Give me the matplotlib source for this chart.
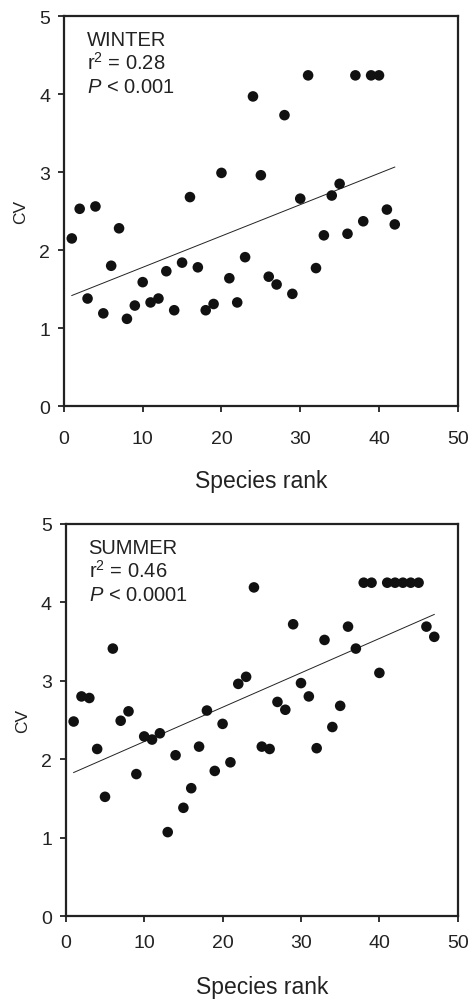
import matplotlib
matplotlib.use('Agg')
import matplotlib.pyplot as plt
import numpy as np

plt.rcParams['font.family'] = ['Liberation Sans', 'DejaVu Sans']
plt.rcParams['mathtext.fontset'] = 'custom'
plt.rcParams['mathtext.rm'] = 'Liberation Sans'
plt.rcParams['mathtext.it'] = 'Liberation Sans:italic'

# winter: species rank vs CV
winter_rank = np.arange(1, 43)
winter_cv = [2.15, 2.53, 1.38, 2.56, 1.19, 1.80, 2.28, 1.12, 1.29, 1.59,
             1.33, 1.38, 1.73, 1.23, 1.84, 2.68, 1.78, 1.23, 1.31, 2.99,
             1.64, 1.33, 1.91, 3.97, 2.96, 1.66, 1.56, 3.73, 1.44, 2.66,
             4.24, 1.77, 2.19, 2.70, 2.85, 2.21, 4.24, 2.37, 4.24, 4.24,
             2.52, 2.33]
winter_text = ['WINTER', r'r$^{\mathregular{2}}$ = 0.28', r'$\mathit{P}$ < 0.001']

# summer
summer_rank = np.arange(1, 48)
summer_cv = [2.48, 2.80, 2.78, 2.13, 1.52, 3.41, 2.49, 2.61, 1.81, 2.29,
             2.25, 2.33, 1.07, 2.05, 1.38, 1.63, 2.16, 2.62, 1.85, 2.45,
             1.96, 2.96, 3.05, 4.19, 2.16, 2.13, 2.73, 2.63, 3.72, 2.97,
             2.80, 2.14, 3.52, 2.41, 2.68, 3.69, 3.41, 4.25, 4.25, 3.10,
             4.25, 4.25, 4.25, 4.25, 4.25, 3.69, 3.56]
summer_text = ['SUMMER', r'r$^{\mathregular{2}}$ = 0.46', r'$\mathit{P}$ < 0.0001']

x_ticks = [0, 10, 20, 30, 40, 50]
y_ticks = [0, 1, 2, 3, 4, 5]


def draw_panel(ax, rank, cv, lines, xpad, labelpad):
    ax.scatter(rank, cv, s=58, color='#111111', edgecolors='none', zorder=3)

    # least squares fit over the plotted ranks
    slope, intercept = np.polyfit(rank, cv, 1)
    xs = np.array([rank[0], rank[-1]])
    ax.plot(xs, intercept + slope * xs, color='#222222', lw=0.7, zorder=2)

    ax.set_xlim(0, 50)
    ax.set_ylim(0, 5)
    ax.set_xticks(x_ticks)
    ax.set_yticks(y_ticks)
    ax.tick_params(axis='x', direction='out', length=4, width=1.3,
                   labelsize=14, pad=xpad, colors='#222222')
    ax.tick_params(axis='y', direction='out', length=4, width=1.3,
                   labelsize=14, pad=6, colors='#222222')
    for side in ['left', 'bottom', 'top', 'right']:
        ax.spines[side].set_linewidth(1.6)
        ax.spines[side].set_color('#222222')

    ax.set_xlabel('Species rank', fontsize=16.5, labelpad=labelpad, color='#222222')
    ax.set_ylabel('CV', fontsize=12.5, labelpad=8, color='#222222')

    for i, t in enumerate(lines):
        ax.text(0.058, 0.925 - i * 0.06, t, transform=ax.transAxes,
                fontsize=14.5, color='#222222', va='baseline', ha='left')


fig = plt.figure(figsize=(4.7, 10.03), dpi=100)
ax1 = fig.add_axes([0.136, 0.594, 0.838, 0.389])
ax2 = fig.add_axes([0.140, 0.0857, 0.834, 0.391])

draw_panel(ax1, winter_rank, winter_cv, winter_text, xpad=13, labelpad=16)
draw_panel(ax2, summer_rank, summer_cv, summer_text, xpad=9, labelpad=17)

fig.savefig('out.png', dpi=100)
